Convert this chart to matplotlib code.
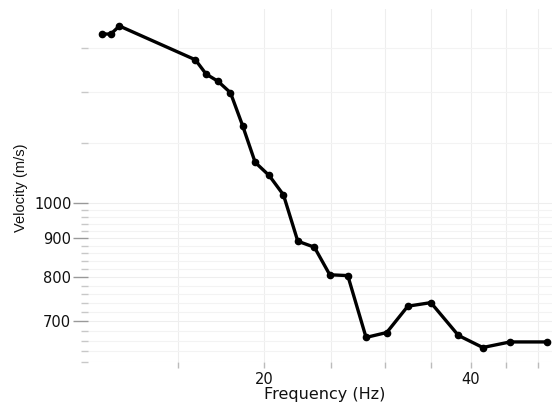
import matplotlib
matplotlib.use("Agg")
import matplotlib.pyplot as plt
from matplotlib.ticker import FixedLocator, NullFormatter, FixedFormatter

frequency = [11.64, 11.97, 12.32, 15.89, 16.47, 17.14, 17.87, 18.61, 19.41, 20.34,
             21.34, 22.39, 23.67, 24.92, 26.47, 28.14, 30.16, 32.36, 34.96, 38.34,
             41.60, 45.58, 51.64]
velocity = [1668, 1668, 1709, 1543, 1478, 1446, 1397, 1265, 1132, 1088,
            1026, 892, 876, 806, 804, 667, 677, 733, 741, 671,
            647, 658, 658]

x_ticks = [15, 20, 25, 30, 35, 40, 45, 50]
x_labels = ["", "20", "", "", "", "40", "", ""]
y_major = [700, 800, 900, 1000]
y_major_labels = ["700", "800", "900", "1000"]
y_minor = [620, 640, 660, 680, 720, 740, 760, 780, 820, 840, 860, 880,
           920, 940, 960, 980, 1200, 1400, 1600]

fig = plt.figure(figsize=(5.52, 4.03), dpi=100)
ax = fig.add_axes([88/552, 1 - 362/403, (552 - 88)/552, (362 - 9)/403])
ax.set_xscale("log")
ax.set_yscale("log")
ax.set_xlim(11.09, 52.45)
ax.set_ylim(619.3, 1799)

for s in ax.spines.values():
    s.set_visible(False)

ax.xaxis.set_major_locator(FixedLocator(x_ticks))
ax.xaxis.set_major_formatter(FixedFormatter(x_labels))
ax.xaxis.set_minor_locator(FixedLocator([]))
ax.yaxis.set_major_locator(FixedLocator(y_major))
ax.yaxis.set_major_formatter(FixedFormatter(y_major_labels))
ax.yaxis.set_minor_locator(FixedLocator(y_minor))
ax.yaxis.set_minor_formatter(NullFormatter())

ax.tick_params(axis="x", which="major", length=4, width=1, color="#bbbbbb",
               labelsize=10.5, labelcolor="#111111", pad=3)
ax.tick_params(axis="y", which="major", length=11, width=1, color="#999999",
               labelsize=10.5, labelcolor="#111111", pad=1)
ax.tick_params(axis="y", which="minor", length=5, width=1, color="#c8c8c8")

ax.grid(True, which="major", axis="both", color="#eeeeee", linewidth=0.8)
ax.grid(True, which="minor", axis="y", color="#f3f3f3", linewidth=0.8)
ax.set_axisbelow(True)

ax.plot(frequency, velocity, color="black", linewidth=2.4, marker="o",
        markersize=4.5, zorder=3)

fig.text(325/552, 1 - 394/403, "Frequency (Hz)", fontsize=11.5, color="#111111",
         ha="center", va="center")
fig.text(21/552, 1 - 188/403, "Velocity (m/s)", rotation=90, fontsize=10.5,
         family=["Liberation Sans", "DejaVu Sans"], color="#111111",
         ha="center", va="center")

fig.savefig("out.png", dpi=100)
